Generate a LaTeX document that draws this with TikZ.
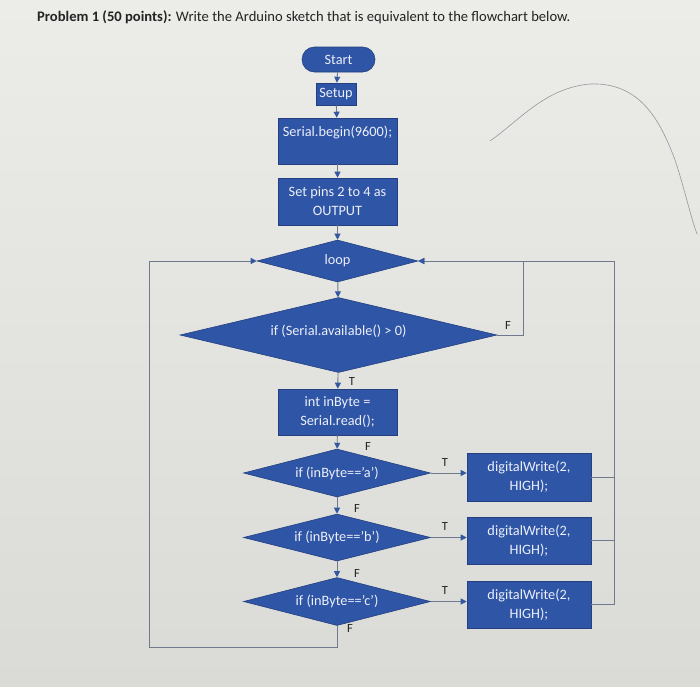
\documentclass[tikz,border=0pt]{standalone}
\usepackage{fontspec}
\setmainfont{Carlito}
\usetikzlibrary{shapes.geometric,arrows.meta}
\definecolor{bgtop}{RGB}{236,236,233}
\definecolor{bgbot}{RGB}{218,218,214}
\definecolor{fc}{RGB}{47,85,166}
\definecolor{ec}{RGB}{36,64,128}
\definecolor{lc}{RGB}{112,122,140}
\definecolor{ac}{RGB}{52,88,160}
\definecolor{tc}{RGB}{236,239,248}
\definecolor{ink}{RGB}{35,35,35}
\definecolor{pencil}{RGB}{150,150,160}
\begin{document}
\begin{tikzpicture}[x=1pt,y=-1pt,
  blk/.style={draw=ec,fill=fc,text=tc,font=\fontsize{14.3}{19}\selectfont,align=center,inner sep=0pt,line width=0.6pt},
  dia/.style={blk,diamond},
  intext/.style={text=tc,font=\fontsize{14.3}{19}\selectfont,inner sep=0pt},
  lab/.style={font=\fontsize{12.5}{14}\selectfont,text=ink,inner sep=0pt},
  conn/.style={draw=lc,line width=0.9pt},
  arr/.style={conn,-{Triangle[length=6pt,width=6pt,color=ac]}}]
\shade[top color=bgtop,bottom color=bgbot] (0,0) rectangle (700,686);
\useasboundingbox (0,0) rectangle (700,686);
% title
\node[anchor=west,text=ink,font=\fontsize{14.6}{17}\selectfont,inner sep=0pt] (title) at (37,17) {\textbf{Problem 1 (50 points):} Write the Arduino sketch that is equivalent to the flowchart below.};
% pencil stroke
\draw[pencil,line width=0.6pt] (490,141) .. controls (520,120) and (545,88) .. (590,84) .. controls (640,82) and (660,120) .. (675,160) .. controls (685,190) and (690,215) .. (697,234);
% nodes
\node[blk,rounded corners=12.5pt,minimum width=73pt,minimum height=25pt] (start) at (338.5,59.5) {Start};
\node[blk,minimum width=40pt,minimum height=22pt] (setup) at (336,94) {Setup};
\node[blk,minimum width=119pt,minimum height=46pt,label={[intext,anchor=center,yshift=-15pt]north:Serial.begin(9600);}] (serial) at (337.5,141) {};
\node[blk,minimum width=119pt,minimum height=47pt] (pins) at (337.5,201.5) {Set pins 2 to 4 as\\OUTPUT};
\node[dia,shape aspect=3.8,minimum width=161pt,minimum height=42pt] (loop) at (337.5,261) {loop};
\node[dia,shape aspect=4.2,minimum width=317pt,minimum height=75pt,label={[intext,anchor=center,yshift=4pt]center:if (Serial.available() > 0)}] (ifs) at (338.5,335) {};
\node[blk,minimum width=119pt,minimum height=46pt] (inb) at (337.5,412) {int inByte =\\Serial.read();};
\node[dia,shape aspect=3.9,minimum width=187pt,minimum height=48pt] (ifa) at (337,473) {if (inByte==’a’)};
\node[dia,shape aspect=3.9,minimum width=187pt,minimum height=47pt] (ifb) at (337,537.5) {if (inByte==’b’)};
\node[dia,shape aspect=3.9,minimum width=187pt,minimum height=48pt] (ifc) at (337,601.5) {if (inByte==’c’)};
\node[blk,minimum width=124pt,minimum height=48pt] (wa) at (529,477) {digitalWrite(2,\\HIGH);};
\node[blk,minimum width=124pt,minimum height=47pt] (wb) at (529,540.5) {digitalWrite(2,\\HIGH);};
\node[blk,minimum width=124pt,minimum height=47pt] (wc) at (529,604.5) {digitalWrite(2,\\HIGH);};
% helper coordinates
\coordinate (fx) at (523,261);
\coordinate (rt) at (614,261);
\coordinate (lt) at (149,261);
\coordinate (bot) at (337,647);
% main flow arrows
\draw[arr] (start) -- (setup);
\draw[arr] (setup) -- (serial);
\draw[arr] (serial) -- (pins);
\draw[arr] (pins) -- (loop);
\draw[arr] (loop) -- (ifs);
\draw[arr] (ifs) -- (inb);
\draw[arr] (inb) -- (ifa);
\draw[arr] (ifa) -- (ifb);
\draw[arr] (ifb) -- (ifc);
% T branches
\draw[arr] (ifa.east) -- (ifa.east -| wa.west);
\draw[arr] (ifb.east) -- (ifb.east -| wb.west);
\draw[arr] (ifc.east) -- (ifc.east -| wc.west);
% F of serial available back to loop
\draw[arr] (ifs.east) -| (fx) -- (loop.east);
% returns from write boxes
\draw[conn] (wa.east) -- (wa.east -| rt);
\draw[conn] (wb.east) -- (wb.east -| rt);
\draw[arr] (wc.east) -| (rt) -- (loop.east);
% F of last test back to loop
\draw[arr] (ifc.south) -- (bot) -| (lt) -- (loop.west);
% labels
\node[lab] (lT0) at (352,381) {T};
\node[lab] (lF1) at (368,446) {F};
\node[lab] (lF2) at (357,508) {F};
\node[lab] (lF3) at (357,573) {F};
\node[lab] (lF4) at (350,628) {F};
\node[lab] (lFs) at (508,325) {F};
\node[lab] (lTa) at (445,462) {T};
\node[lab] (lTb) at (445,526) {T};
\node[lab] (lTc) at (445,590) {T};
\end{tikzpicture}
\end{document}
